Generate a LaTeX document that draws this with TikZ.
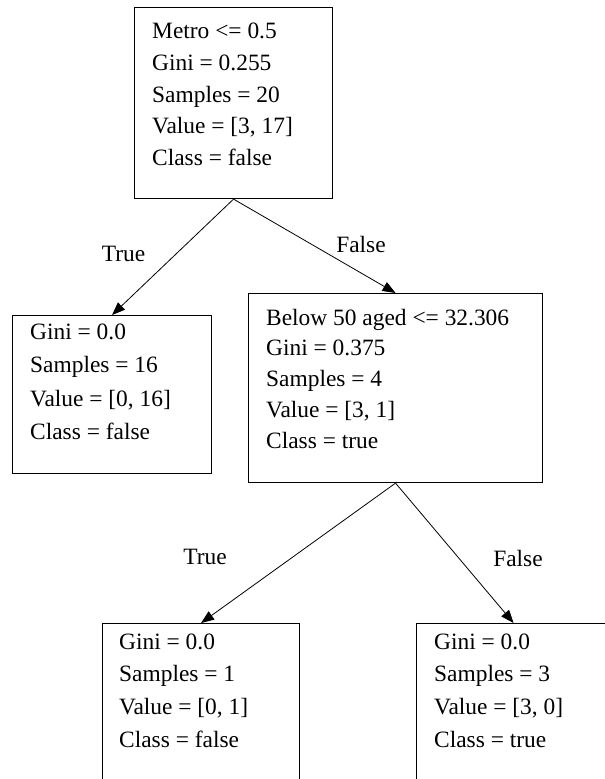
\documentclass[tikz,border=0pt]{standalone}
\usepackage{fontspec}
\setmainfont{Liberation Serif}
\usetikzlibrary{arrows.meta,calc}
\begin{document}
\begin{tikzpicture}[x=1bp,y=-1bp,
  box/.style={draw, line width=1.1bp, inner sep=0, anchor=north west},
  txt/.style={anchor=base west, inner sep=0, font=\fontsize{23.5}{28}\selectfont},
  lbl/.style={anchor=base, inner sep=0, font=\fontsize{23.5}{28}\selectfont},
  edge/.style={line width=0.8bp, -{Triangle[length=13bp,width=10bp]}}]
\useasboundingbox (0,0) rectangle (605,779);
\clip (0,0) rectangle (605,779);
% boxes
\node[box, minimum width=198bp, minimum height=191bp] (root) at (134,7) {};
\node[box, minimum width=199bp, minimum height=158bp] (left) at (12,315) {};
\node[box, minimum width=294bp, minimum height=189bp] (mid) at (248,293) {};
\node[box, minimum width=197bp, minimum height=200bp] (bl) at (102,623) {};
\node[box, minimum width=194bp, minimum height=200bp] (br) at (416,623) {};
% texts
\foreach \t [count=\i] in {{Metro <= 0.5},{Gini = 0.255},{Samples = 20},{Value = [3, 17]},{Class = false}}
  \node[txt] (rt\i) at (152,{39+31.5*(\i-1)}) {\t};
\foreach \t [count=\i] in {{Gini = 0.0},{Samples = 16},{Value = [0, 16]},{Class = false}}
  \node[txt] (lt\i) at (30,{339+33.5*(\i-1)}) {\t};
\foreach \t [count=\i] in {{Below 50 aged <= 32.306},{Gini = 0.375},{Samples = 4},{Value = [3, 1]},{Class = true}}
  \node[txt] (mt\i) at (266,{325+30.8*(\i-1)}) {\t};
\foreach \t [count=\i] in {{Gini = 0.0},{Samples = 1},{Value = [0, 1]},{Class = false}}
  \node[txt] (blt\i) at (119,{649+32.7*(\i-1)}) {\t};
\foreach \t [count=\i] in {{Gini = 0.0},{Samples = 3},{Value = [3, 0]},{Class = true}}
  \node[txt] (brt\i) at (434,{649+32.7*(\i-1)}) {\t};
% edges
\draw[edge] (root.south) -- (left.north);
\draw[edge] (root.south) -- (mid.north);
\draw[edge] (mid.south) -- (bl.north);
\draw[edge] (mid.south) -- (br.north);
% edge labels
\node[lbl] (t1) at (123.5,261) {True};
\node[lbl] (f1) at (361,252.5) {False};
\node[lbl] (t2) at (205,564) {True};
\node[lbl] (f2) at (518,566) {False};
\end{tikzpicture}
\end{document}
